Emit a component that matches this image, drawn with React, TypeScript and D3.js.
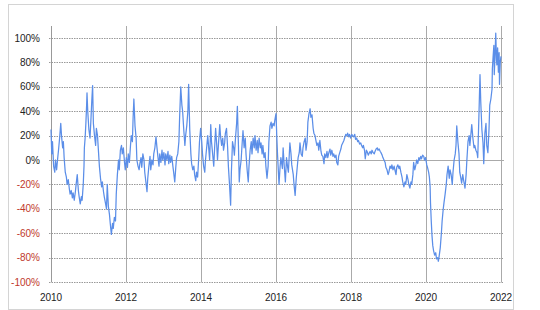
import React from "react";
import * as d3 from "d3";

const yTickValues = [100, 80, 60, 40, 20, 0, -20, -40, -60, -80, -100];
const xTickValues = [2010, 2012, 2014, 2016, 2018, 2020, 2022];

// [decimal year, % value]
const series2010_2015: [number, number][] = [
  [2010.00, 25], [2010.02, 5], [2010.04, 15], [2010.07, -5], [2010.10, -10], [2010.12, 0], [2010.15, -8],
  [2010.18, 2], [2010.20, 8], [2010.23, 18], [2010.26, 30], [2010.28, 20], [2010.31, 10], [2010.33, 15],
  [2010.35, 2], [2010.38, -10], [2010.41, -14], [2010.43, -20], [2010.46, -16], [2010.49, -24], [2010.51, -28],
  [2010.54, -25], [2010.57, -31], [2010.59, -27], [2010.62, -33], [2010.65, -26], [2010.67, -20], [2010.70, -12],
  [2010.73, -25], [2010.75, -30], [2010.78, -36], [2010.81, -30], [2010.83, -33], [2010.86, -20], [2010.88, -5],
  [2010.89, 10], [2010.91, 18], [2010.93, 30], [2010.95, 45], [2010.96, 55], [2010.98, 40], [2011.01, 25],
  [2011.04, 18], [2011.06, 30], [2011.09, 50], [2011.11, 61], [2011.13, 30], [2011.16, 20], [2011.19, 12],
  [2011.21, 26], [2011.24, 20], [2011.27, 5], [2011.29, -5], [2011.32, -15], [2011.35, -22], [2011.37, -18],
  [2011.40, -26], [2011.42, -30], [2011.45, -35], [2011.48, -40], [2011.50, -20], [2011.53, -38], [2011.56, -45],
  [2011.58, -52], [2011.61, -61], [2011.64, -52], [2011.66, -56], [2011.69, -47], [2011.72, -50], [2011.74, -28],
  [2011.77, -12], [2011.80, 0], [2011.82, -8], [2011.85, 8], [2011.88, 12], [2011.90, 5], [2011.93, 10],
  [2011.96, -2], [2011.98, -8], [2012.01, 2], [2012.04, -6], [2012.06, 5], [2012.09, -2], [2012.12, 12],
  [2012.14, 20], [2012.17, 15], [2012.19, 35], [2012.21, 50], [2012.24, 28], [2012.27, 18], [2012.29, 0],
  [2012.32, -5], [2012.35, -8], [2012.37, -3], [2012.40, 2], [2012.42, -6], [2012.45, 5], [2012.48, 0],
  [2012.50, -10], [2012.53, -18], [2012.56, -26], [2012.58, -15], [2012.61, -5], [2012.64, 3], [2012.66, -8],
  [2012.69, 0], [2012.72, -4], [2012.74, 5], [2012.77, 10], [2012.80, 19], [2012.82, 12], [2012.85, 3],
  [2012.88, -5], [2012.90, 5], [2012.93, -2], [2012.96, 8], [2012.98, 0], [2013.01, 6], [2013.04, -4],
  [2013.06, 5], [2013.09, 0], [2013.12, 7], [2013.14, -3], [2013.17, 4], [2013.19, -2], [2013.22, 3],
  [2013.25, -5], [2013.27, -10], [2013.30, -18], [2013.33, -5], [2013.35, 2], [2013.38, 5], [2013.41, 15],
  [2013.43, 35], [2013.46, 60], [2013.49, 45], [2013.51, 40], [2013.54, 25], [2013.57, 12], [2013.59, 20],
  [2013.62, 28], [2013.65, 40], [2013.67, 62], [2013.70, 25], [2013.73, 5], [2013.75, -3], [2013.78, -8],
  [2013.81, -5], [2013.83, -12], [2013.86, -17], [2013.88, -10], [2013.91, -14], [2013.94, 2], [2013.96, 15],
  [2013.99, 26], [2014.02, 15], [2014.04, 5], [2014.07, -5], [2014.10, -10], [2014.12, 0], [2014.15, 10],
  [2014.18, 20], [2014.20, 12], [2014.23, 0], [2014.26, 29], [2014.28, 15], [2014.31, 5], [2014.34, -5],
  [2014.36, 8], [2014.39, 26], [2014.42, 12], [2014.44, 0], [2014.47, 15], [2014.50, 29], [2014.52, 20],
  [2014.55, 12], [2014.58, 18], [2014.60, 8], [2014.63, 14], [2014.65, 22], [2014.68, 26], [2014.71, 10],
  [2014.73, -5], [2014.76, -20], [2014.79, -37], [2014.81, -10], [2014.84, 15], [2014.87, 10], [2014.89, 4],
  [2014.92, 18], [2014.95, 30], [2014.97, 44], [2015.00, 10], [2015.02, -18], [2015.04, -8], [2015.07, 0],
  [2015.10, 15], [2015.12, 24], [2015.15, 10], [2015.18, 18], [2015.20, 5], [2015.23, -8], [2015.26, -18],
  [2015.28, -5], [2015.31, 8], [2015.34, 15], [2015.36, 5], [2015.39, 18], [2015.42, 10], [2015.44, 20],
  [2015.47, 8], [2015.50, 16], [2015.52, 6], [2015.55, 18], [2015.58, 10], [2015.60, 14], [2015.63, 5],
  [2015.65, 12], [2015.68, 2], [2015.71, 6], [2015.73, -5], [2015.76, -15], [2015.79, -5], [2015.81, 15],
  [2015.84, 28], [2015.87, 31], [2015.89, 26], [2015.92, 30], [2015.95, 28], [2015.97, 33], [2016.00, 38],
  [2016.02, 20],
];

const series2016_2021: [number, number][] = [
  [2016.04, 5], [2016.08, -20], [2016.11, -5], [2016.13, 2], [2016.17, -7], [2016.19, 10], [2016.22, -5],
  [2016.25, -18], [2016.28, 2], [2016.31, -6], [2016.33, -10], [2016.37, 14], [2016.40, 5], [2016.42, -4],
  [2016.46, -12], [2016.48, -20], [2016.51, -29], [2016.54, -15], [2016.56, -8], [2016.59, 2], [2016.62, 6],
  [2016.64, 14], [2016.67, 5], [2016.70, 3], [2016.72, 10], [2016.75, 15], [2016.78, 18], [2016.80, 8],
  [2016.83, 15], [2016.85, 31], [2016.88, 38], [2016.91, 42], [2016.93, 35], [2016.96, 37], [2016.99, 26],
  [2017.01, 22], [2017.04, 20], [2017.07, 15], [2017.09, 12], [2017.12, 14], [2017.14, 8], [2017.17, 16],
  [2017.20, 7], [2017.22, 4], [2017.25, 3], [2017.28, -3], [2017.30, 5], [2017.33, 2], [2017.36, 7],
  [2017.38, 2], [2017.41, 6], [2017.44, 9], [2017.46, 4], [2017.49, 8], [2017.52, 3], [2017.54, 5],
  [2017.57, 2], [2017.60, 4], [2017.62, -2], [2017.65, -4], [2017.67, 3], [2017.70, 6], [2017.73, 9],
  [2017.75, 12], [2017.78, 14], [2017.81, 16], [2017.83, 18], [2017.86, 21], [2017.89, 20], [2017.91, 22],
  [2017.94, 19], [2017.96, 21], [2017.99, 18], [2018.02, 21], [2018.04, 20], [2018.07, 19], [2018.10, 21],
  [2018.12, 17], [2018.15, 18], [2018.18, 15], [2018.20, 16], [2018.23, 13], [2018.26, 14], [2018.28, 12],
  [2018.31, 10], [2018.33, 12], [2018.36, 8], [2018.38, 1], [2018.41, 8], [2018.43, 7], [2018.46, 4],
  [2018.49, 6], [2018.51, 7], [2018.54, 5], [2018.56, 8], [2018.59, 6], [2018.62, 5], [2018.64, 7],
  [2018.67, 9], [2018.70, 10], [2018.72, 8], [2018.75, 9], [2018.78, 7], [2018.80, 6], [2018.83, 4],
  [2018.85, 2], [2018.88, 0], [2018.91, -2], [2018.93, -6], [2018.96, -8], [2018.99, -12], [2019.01, -10],
  [2019.04, -5], [2019.07, -7], [2019.09, -4], [2019.12, -8], [2019.15, -5], [2019.17, -8], [2019.20, -12],
  [2019.22, -6], [2019.25, -4], [2019.28, -7], [2019.30, -5], [2019.33, -10], [2019.36, -14], [2019.38, -18],
  [2019.41, -22], [2019.44, -18], [2019.46, -20], [2019.49, -12], [2019.52, -16], [2019.54, -20], [2019.57, -23],
  [2019.60, -18], [2019.62, -20], [2019.65, -12], [2019.67, -2], [2019.70, -8], [2019.73, -4], [2019.75, 0],
  [2019.78, -3], [2019.81, 2], [2019.83, 0], [2019.86, 3], [2019.88, 1], [2019.91, 4], [2019.94, 3],
  [2019.96, 0], [2019.99, 2], [2020.02, -4], [2020.04, -6], [2020.07, -10], [2020.09, -14], [2020.11, -22],
  [2020.12, -35], [2020.14, -50], [2020.16, -62], [2020.18, -70], [2020.20, -74], [2020.23, -78], [2020.26, -76],
  [2020.28, -81], [2020.31, -80], [2020.33, -83], [2020.35, -79], [2020.38, -72], [2020.41, -60], [2020.43, -50],
  [2020.46, -40], [2020.48, -35], [2020.51, -28], [2020.54, -20], [2020.56, -12], [2020.59, -5], [2020.62, -15],
  [2020.64, -8], [2020.67, -12], [2020.70, -20], [2020.72, -10], [2020.75, 0], [2020.78, 5], [2020.80, 12],
  [2020.82, 28], [2020.85, 15], [2020.88, 5], [2020.90, -10], [2020.93, -15], [2020.95, -19], [2020.98, -12],
  [2021.00, -16], [2021.04, -23], [2021.07, -12], [2021.09, 0], [2021.12, 15], [2021.15, 20], [2021.17, 12],
  [2021.20, 22], [2021.22, 29], [2021.25, 18], [2021.28, 10], [2021.30, 12], [2021.33, 8], [2021.36, 6],
  [2021.38, 2], [2021.41, 35], [2021.44, 70], [2021.46, 48], [2021.49, 25], [2021.52, 14], [2021.54, -3],
  [2021.57, 22], [2021.60, 30], [2021.62, 12], [2021.65, 6], [2021.68, 25], [2021.70, 45], [2021.73, 50],
  [2021.76, 58], [2021.77, 75], [2021.79, 85], [2021.81, 94], [2021.82, 70], [2021.84, 85], [2021.86, 104],
  [2021.88, 82], [2021.89, 78], [2021.91, 92], [2021.93, 72], [2021.95, 88], [2021.96, 62], [2021.98, 80],
  [2022.00, 85],
];

const data = [...series2010_2015, ...series2016_2021];

export default function App() {
  const W = 540, H = 310;
  const left = 51, right = 501, top = 38, bottom = 282;
  const x = d3.scaleLinear().domain([2010, 2022]).range([left, right]);
  const y = d3.scaleLinear().domain([-100, 100]).range([bottom, top]);
  const line = d3.line<[number, number]>().x(d => x(d[0])).y(d => y(d[1]));
  const font = "'Liberation Sans', Arial, Helvetica, sans-serif";

  return (
    <svg width={W} height={H} style={{ position: "absolute", left: 0, top: 0, background: "#fff" }}>
      <rect x={8.5} y={4.5} width={505} height={305} fill="#fff" stroke="#d4d4d4" strokeWidth={1} />
      {yTickValues.map(v => (
        <line key={"h" + v} x1={left - 2} x2={right + 3} y1={Math.round(y(v)) + 0.5} y2={Math.round(y(v)) + 0.5}
          stroke={v === 0 ? "#aaa" : "#999"} strokeWidth={1} strokeDasharray={v === 0 ? undefined : "1.5,1"} />
      ))}
      {xTickValues.map(v => (
        <line key={"v" + v} x1={Math.round(x(v)) + 0.5} x2={Math.round(x(v)) + 0.5} y1={26} y2={bottom}
          stroke={v === 2010 ? "#999" : "#aaa"} strokeWidth={1} />
      ))}
      <path d={line(data) || ""} fill="none" stroke="#5b8ee8" strokeWidth={1.25} strokeLinejoin="round" />
      {yTickValues.map(v => (
        <text key={"yl" + v} x={40} y={y(v)} dy="0.35em" textAnchor="end" fontFamily={font} fontSize={10}
          fill={v < 0 ? "#c0392b" : "#222"}>{v + "%"}</text>
      ))}
      {xTickValues.map(v => (
        <text key={"xl" + v} x={x(v)} y={297} dy="0.35em" textAnchor="middle" fontFamily={font} fontSize={10}
          fill="#222">{v}</text>
      ))}
    </svg>
  );
}
